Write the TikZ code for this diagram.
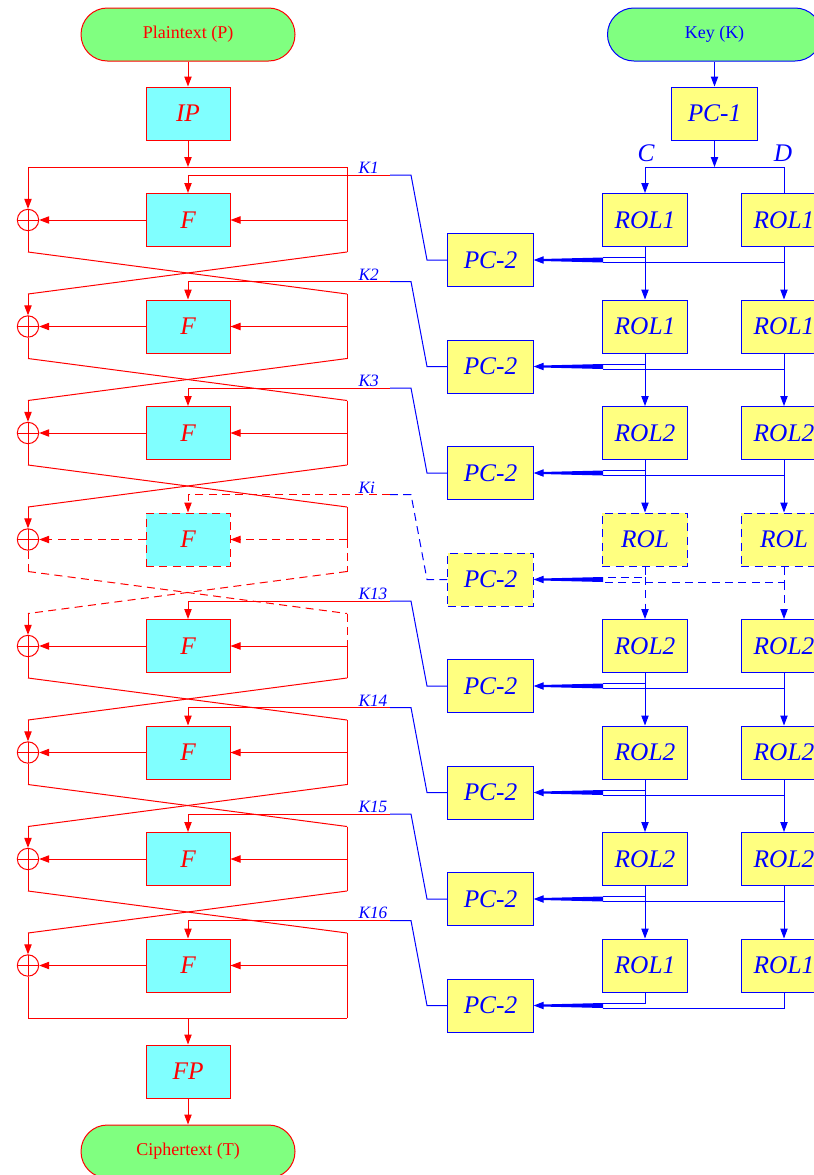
\documentclass[tikz,border=0pt]{standalone}
\usepackage{fontspec}
\setmainfont{Liberation Serif}
\usetikzlibrary{arrows.meta,calc}
\definecolor{cy}{HTML}{80FFFF}
\definecolor{ye}{HTML}{FFFF80}
\definecolor{gr}{HTML}{80FF80}
\begin{document}
\begin{tikzpicture}[x=0.75pt,y=-0.75pt,
  line width=0.75pt,
  >={Triangle[length=7.5pt,width=5.5pt]},
  dsh/.code={\ifnum#1=3 \tikzset{dash pattern=on 6pt off 4pt}\fi},
  lbox/.style={draw=red,fill=cy,minimum width=63pt,minimum height=39.75pt,inner sep=0pt,text=red,font=\fontsize{19}{19}\selectfont\itshape},
  kbox/.style={draw=blue,fill=ye,minimum width=64pt,minimum height=39.75pt,inner sep=0pt,text=blue,font=\fontsize{19}{19}\selectfont\itshape},
  term/.style={fill=gr,minimum width=160.5pt,minimum height=39.75pt,rounded corners=19.8pt,inner sep=0pt,font=\fontsize{13.5}{13.5}\selectfont},
  xorc/.style={draw=red,circle,minimum size=16pt,inner sep=0pt,
    path picture={\draw[red] (path picture bounding box.north) -- (path picture bounding box.south) (path picture bounding box.west) -- (path picture bounding box.east);}},
  klab/.style={text=blue,font=\fontsize{13}{13}\selectfont\itshape,anchor=south west,inner sep=0pt},
  cdlab/.style={text=blue,font=\fontsize{19}{19}\selectfont\itshape,inner sep=0pt},
]
\useasboundingbox (0,0) rectangle (814,1175);
\clip (0,0) rectangle (814,1175);

% terminals and permutations
\node[term,draw=red,text=red] (PT) at (188,34.5) {Plaintext (P)};
\node[term,draw=blue,text=blue] (KEY) at (714.5,34.5) {Key (K)};
\node[lbox] (IP) at (188,113.5) {IP};
\node[kbox] (PC1) at (714.5,113.5) {PC-1};
\node[lbox] (FP) at (188,1071.5) {FP};
\node[term,draw=red,text=red] (CT) at (188,1151.5) {Ciphertext (T)};
\node[cdlab] (CL) at (646,153) {C};
\node[cdlab] (DL) at (783,153) {D};

% rounds: nodes and coordinates
\foreach \i/\r in {0/ROL1,1/ROL1,2/ROL2,3/ROL,4/ROL2,5/ROL2,6/ROL2,7/ROL1}{
  \pgfmathsetmacro\c{220+106.5*\i}
  \node[lbox,dsh=\i] (F\i) at (188,\c) {F};
  \node[xorc] (X\i) at (28,\c) {};
  \node[kbox,dsh=\i] (C\i) at (645,\c) {\r};
  \node[kbox,dsh=\i] (D\i) at (784,\c) {\r};
  \node[kbox,dsh=\i] (P\i) at (490.5,\c+40) {PC-2};
  \coordinate (R\i) at (347,\c);
  \coordinate (LB\i) at (28,\c+32);
  \coordinate (RB\i) at (347,\c+32);
  \coordinate (LT\i) at (28,\c-32.5);
  \coordinate (RT\i) at (347,\c-32.5);
  \coordinate (KA\i) at (390,\c-45);
  \coordinate (KB\i) at (411,\c-45);
  \coordinate (KC\i) at (427,\c+40);
  \coordinate (CB\i) at (645,\c+37.5);
  \coordinate (DB\i) at (784,\c+42.5);
  \coordinate (WA\i) at (603,\c+37.5);
  \coordinate (WB\i) at (603,\c+42.5);
  \coordinate (WT\i) at (541,\c+40);
}
\coordinate (LT0) at (28,167);
\coordinate (RT0) at (347,167);
\coordinate (TOP) at (188,167);
\coordinate (LB7) at (28,1018);
\coordinate (RB7) at (347,1018);
\coordinate (BOT) at (188,1018);

% left: data path
\draw[red,->] (PT) -- (IP);
\draw[red,->] (IP) -- (TOP);
\draw[red] (LT0) -- (RT0);
\draw[red] (LB7) -- (RB7);
\draw[red,->] (BOT) -- (FP);
\draw[red,->] (FP) -- (CT);

\foreach \i/\k in {0/K1,1/K2,2/K3,3/Ki,4/K13,5/K14,6/K15,7/K16}{
  \pgfmathsetmacro\c{220+106.5*\i}
  \pgfmathtruncatemacro\h{\i-1}
  \draw[red,->,dsh=\i] (F\i.west) -- (X\i.east);
  \draw[red,->,dsh=\i] (R\i) -- (F\i.east);
  \draw[red,->] (LT\i) -- (X\i.north);
  \draw[red,dsh=\h] (RT\i) -- (R\i);
  \draw[red,dsh=\i] (R\i) -- (RB\i);
  \draw[red,dsh=\i] (X\i.south) -- (LB\i);
  \draw[blue,dsh=\i] (P\i.west) -- (KC\i) -- (KB\i) -- (KA\i);
  \draw[red,->,dsh=\i] (KA\i) -| (F\i.north);
  \node[klab] (KL\i) at (358,\c-46) {\k};
  \draw[blue,dsh=\i] (C\i.south) -- (CB\i) -- (WA\i);
  \draw[blue,dsh=\i] (D\i.south) -- (DB\i) -- (WB\i);
  \fill[blue] (WA\i) -- (WB\i) -- ($(WT\i)+(0,1)$) -- ($(WT\i)+(0,-1)$) -- cycle;
  \draw[blue,->] (WT\i) -- (P\i.east);
}

\foreach \i [evaluate=\i as \j using int(\i+1)] in {0,...,6}{
  \draw[red,dsh=\i] (LB\i) -- (RT\j);
  \draw[red,dsh=\i] (RB\i) -- (LT\j);
  \draw[blue,->,dsh=\i] (CB\i) -- (C\j.north);
  \draw[blue,->,dsh=\i] (DB\i) -- (D\j.north);
}

% key schedule top
\coordinate (SP) at (714.5,167);
\coordinate (CS) at (645,167);
\coordinate (DS) at (784,167);
\draw[blue,->] (KEY) -- (PC1);
\draw[blue,->] (PC1) -- (SP);
\draw[blue] (CS) -- (DS);
\draw[blue,->] (CS) -- (C0);
\draw[blue] (DS) -- (D0);
\end{tikzpicture}
\end{document}
